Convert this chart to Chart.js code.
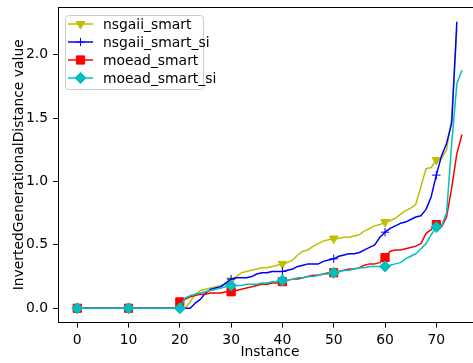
<!DOCTYPE html>
<html>
<head>
<meta charset="utf-8">
<script src="https://cdn.jsdelivr.net/npm/chart.js@4.4.0/dist/chart.umd.min.js"></script>
<style>
  html, body { margin: 0; padding: 0; overflow: hidden; background: #fff; }
  #wrap { width: 473px; height: 363px; }
</style>
</head>
<body>
<div id="wrap"><canvas id="igdChart" width="473" height="363"></canvas></div>
<script>
// IGD per instance
const seriesNames = ["nsgaii_smart", "nsgaii_smart_si", "moead_smart", "moead_smart_si"];

const nsgaiiSmart = [
    0, 0, 0, 0, 0, 0, 0, 0, 0, 0,
    0, 0, 0, 0, 0, 0, 0, 0, 0, 0,
    0, 0, 0.05, 0.11, 0.14, 0.15, 0.16, 0.17, 0.18, 0.19,
    0.22, 0.25, 0.28, 0.29, 0.30, 0.31, 0.32, 0.32, 0.33, 0.34,
    0.35, 0.36, 0.38, 0.42, 0.45, 0.46, 0.49, 0.51, 0.53, 0.54,
    0.55, 0.55, 0.56, 0.56, 0.57, 0.58, 0.61, 0.63, 0.65, 0.66,
    0.68, 0.69, 0.71, 0.74, 0.77, 0.79, 0.82, 0.96, 1.10, 1.11,
    1.17, 1.18, 1.25, 1.50, 2.20,
];
const nsgaiiSmartSi = [
    0, 0, 0, 0, 0, 0, 0, 0, 0, 0,
    0, 0, 0, 0, 0, 0, 0, 0, 0, 0,
    0, 0, 0, 0.04, 0.07, 0.12, 0.15, 0.16, 0.17, 0.20,
    0.23, 0.24, 0.24, 0.24, 0.25, 0.27, 0.28, 0.28, 0.29, 0.29,
    0.29, 0.30, 0.31, 0.33, 0.34, 0.35, 0.35, 0.35, 0.37, 0.38,
    0.39, 0.41, 0.42, 0.43, 0.43, 0.44, 0.46, 0.48, 0.50, 0.56,
    0.60, 0.63, 0.65, 0.67, 0.68, 0.70, 0.72, 0.73, 0.78, 0.88,
    1.05, 1.20, 1.30, 1.46, 2.26,
];
const moeadSmart = [
    0, 0, 0, 0, 0, 0, 0, 0, 0, 0,
    0, 0, 0, 0, 0, 0, 0, 0, 0, 0,
    0.05, 0.07, 0.09, 0.10, 0.11, 0.11, 0.12, 0.12, 0.12, 0.13,
    0.13, 0.14, 0.15, 0.16, 0.17, 0.18, 0.19, 0.19, 0.20, 0.20,
    0.21, 0.22, 0.23, 0.23, 0.24, 0.25, 0.26, 0.26, 0.27, 0.28,
    0.28, 0.29, 0.30, 0.31, 0.31, 0.32, 0.34, 0.35, 0.35, 0.36,
    0.40, 0.45, 0.46, 0.46, 0.47, 0.48, 0.49, 0.51, 0.59, 0.62,
    0.66, 0.64, 0.72, 0.95, 1.22, 1.37,
];
const moeadSmartSi = [
    0, 0, 0, 0, 0, 0, 0, 0, 0, 0,
    0, 0, 0, 0, 0, 0, 0, 0, 0, 0,
    0, 0.08, 0.10, 0.11, 0.12, 0.13, 0.14, 0.15, 0.16, 0.17,
    0.18, 0.18, 0.18, 0.19, 0.19, 0.19, 0.20, 0.20, 0.21, 0.21,
    0.22, 0.22, 0.23, 0.24, 0.24, 0.25, 0.25, 0.26, 0.27, 0.27,
    0.28, 0.29, 0.30, 0.30, 0.31, 0.32, 0.32, 0.33, 0.33, 0.33,
    0.33, 0.34, 0.35, 0.36, 0.39, 0.41, 0.43, 0.47, 0.51, 0.58,
    0.64, 0.65, 0.75, 1.30, 1.77, 1.88,
];

const xTicks = [0, 10, 20, 30, 40, 50, 60, 70];
const yTicks = [0.0, 0.5, 1.0, 1.5, 2.0];

const colors = ["#bfbf00", "#0000ff", "#ff0000", "#00bfbf"];
const markers = [
    { style: "triangle", rotation: 180, radius: 5 },
    { style: "cross", rotation: 0, radius: 4.2 },
    { style: "rect", rotation: 0, radius: 5.8 },
    { style: "rectRot", rotation: 0, radius: 5.5 },
];
const allValues = [nsgaiiSmart, nsgaiiSmartSi, moeadSmart, moeadSmartSi];

const FONT = "'DejaVu Sans', sans-serif";

const datasets = allValues.map((vals, i) => ({
    label: seriesNames[i],
    data: vals.map((v, k) => ({ x: k, y: v })),
    borderColor: colors[i],
    backgroundColor: colors[i],
    borderWidth: 1.5,
    borderJoinStyle: "round",
    pointStyle: markers[i].style,
    rotation: markers[i].rotation,
    pointRadius: (ctx) => (ctx.dataIndex % 10 === 0 ? markers[i].radius : 0),
    pointHoverRadius: 0,
    pointBorderWidth: 1,
    pointBorderColor: colors[i],
    pointBackgroundColor: colors[i],
    tension: 0,
    order: 3 - i,
}));

// top spine (right spine falls outside the picture), x title and a matplotlib style legend
const framePlugin = {
    id: "frameAndLegend",
    afterDraw(chart) {
        const ctx = chart.ctx;
        const a = chart.chartArea;
        ctx.save();
        ctx.strokeStyle = "#000";
        ctx.lineWidth = 1;
        ctx.beginPath();
        ctx.moveTo(a.left, a.top + 0.5);
        ctx.lineTo(chart.width, a.top + 0.5);
        ctx.stroke();

        ctx.font = "13.9px " + FONT;
        ctx.fillStyle = "#000";
        ctx.textAlign = "center";
        ctx.textBaseline = "middle";
        ctx.fillText("Instance", 270, 352);

        const bx = 65, by = 15, bw = 138, bh = 74;
        ctx.beginPath();
        ctx.roundRect(bx + 0.5, by + 0.5, bw, bh, 3);
        ctx.fillStyle = "rgba(255,255,255,0.8)";
        ctx.fill();
        ctx.strokeStyle = "#cccccc";
        ctx.stroke();

        ctx.textAlign = "left";
        seriesNames.forEach((name, i) => {
            const ry = 24 + i * 18;
            ctx.strokeStyle = colors[i];
            ctx.lineWidth = 1.5;
            ctx.beginPath();
            ctx.moveTo(68, ry);
            ctx.lineTo(93, ry);
            ctx.stroke();
            ctx.fillStyle = colors[i];
            ctx.lineWidth = 1;
            Chart.helpers.drawPoint(ctx, {
                pointStyle: markers[i].style,
                rotation: markers[i].rotation,
                radius: markers[i].radius,
                borderWidth: 1,
            }, 80.5, ry);
            ctx.fillStyle = "#000";
            ctx.fillText(name, 103, ry + 1);
        });
        ctx.restore();
    },
};

new Chart(document.getElementById("igdChart"), {
    type: "line",
    data: { datasets: datasets },
    plugins: [framePlugin],
    options: {
        responsive: false,
        animation: false,
        events: [],
        layout: { autoPadding: false, padding: { top: 7, right: 0, left: 0, bottom: 0 } },
        plugins: {
            legend: { display: false },
            tooltip: { enabled: false },
        },
        scales: {
            x: {
                type: "linear",
                min: -3.75,
                max: 77.15,
                afterFit: (s) => {
                    s.height = 40.4;
                    s.paddingLeft = 0;
                    s.paddingRight = 0;
                },
                afterBuildTicks: (s) => { s.ticks = xTicks.map((v) => ({ value: v })); },
                ticks: {
                    padding: 4,
                    color: "#000",
                    maxRotation: 0,
                    font: { family: FONT, size: 13.9 },
                    callback: (v) => String(v),
                },
                grid: { drawOnChartArea: false, drawTicks: true, tickLength: 5, color: "#000", tickWidth: 1 },
                border: { display: true, color: "#000", width: 1 },
            },
            y: {
                type: "linear",
                min: -0.113,
                max: 2.376,
                afterFit: (s) => {
                    s.width = 58;
                    s.paddingTop = 0;
                    s.paddingBottom = 0;
                },
                afterBuildTicks: (s) => { s.ticks = yTicks.map((v) => ({ value: v })); },
                ticks: {
                    padding: 5,
                    color: "#000",
                    font: { family: FONT, size: 13.9 },
                    callback: (v) => v.toFixed(1),
                },
                grid: { drawOnChartArea: false, drawTicks: true, tickLength: 5, color: "#000", tickWidth: 1 },
                border: { display: true, color: "#000", width: 1 },
                title: {
                    display: true,
                    text: "InvertedGenerationalDistance value",
                    color: "#000",
                    font: { family: FONT, size: 13.9 },
                    padding: { top: 11.5, bottom: 0 },
                },
            },
        },
    },
});
</script>
</body>
</html>
